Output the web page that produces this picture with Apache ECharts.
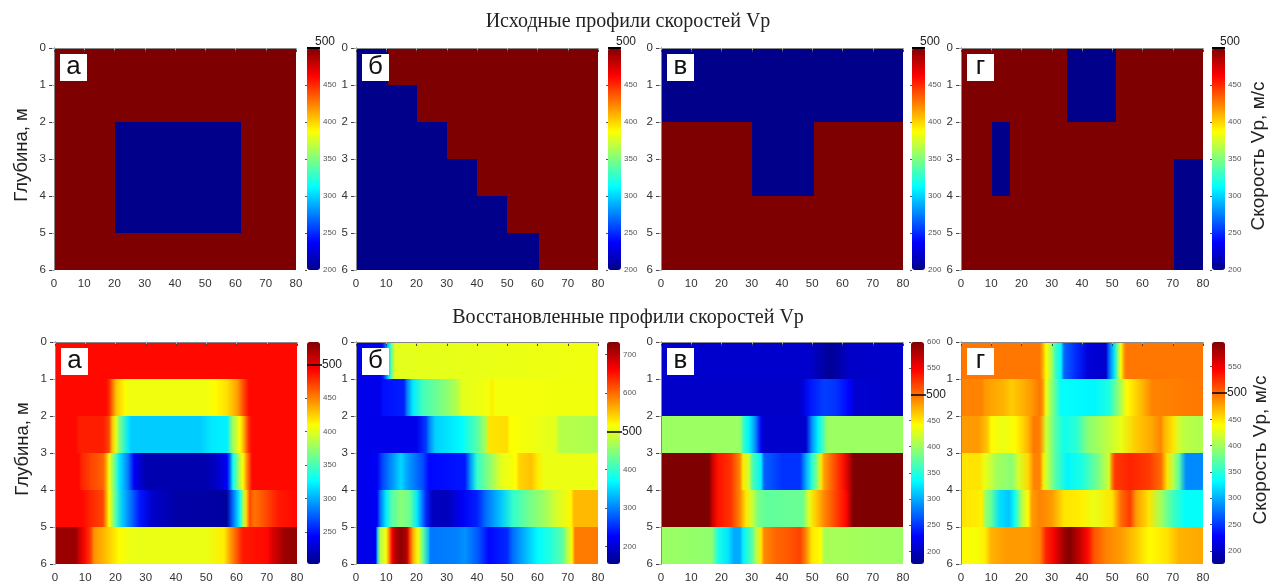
<!DOCTYPE html>
<html><head><meta charset="utf-8">
<style>html,body{margin:0;padding:0;background:#fff}#c{width:1271px;height:582px}</style>
<script src="https://cdn.jsdelivr.net/npm/echarts@6/dist/echarts.min.js"></script>
</head><body><div id="c"></div>
<script>
// every row: [x, velocity] knots, depth layer = row index
const startA = [
 [[0,500],[80,500]],[[0,500],[80,500]],
 [[0,500],[20.3,500],[20.3,200],[61.7,200],[61.7,500],[80,500]],
 [[0,500],[20.3,500],[20.3,200],[61.7,200],[61.7,500],[80,500]],
 [[0,500],[20.3,500],[20.3,200],[61.7,200],[61.7,500],[80,500]],
 [[0,500],[80,500]]];
const startB = [
 [[0,200],[10.5,200],[10.5,500],[80,500]],
 [[0,200],[20,200],[20,500],[80,500]],
 [[0,200],[30,200],[30,500],[80,500]],
 [[0,200],[40,200],[40,500],[80,500]],
 [[0,200],[50,200],[50,500],[80,500]],
 [[0,200],[60.5,200],[60.5,500],[80,500]]];
const startC = [
 [[0,200],[80,200]],[[0,200],[80,200]],
 [[0,500],[30,500],[30,200],[50.6,200],[50.6,500],[80,500]],
 [[0,500],[30,500],[30,200],[50.6,200],[50.6,500],[80,500]],
 [[0,500],[80,500]],[[0,500],[80,500]]];
const startD = [
 [[0,500],[35.2,500],[35.2,200],[51.3,200],[51.3,500],[80,500]],
 [[0,500],[35.2,500],[35.2,200],[51.3,200],[51.3,500],[80,500]],
 [[0,500],[10.1,500],[10.1,200],[16.2,200],[16.2,500],[80,500]],
 [[0,500],[10.1,500],[10.1,200],[16.2,200],[16.2,500],[70.3,500],[70.3,200],[80,200]],
 [[0,500],[70.3,500],[70.3,200],[80,200]],
 [[0,500],[70.3,500],[70.3,200],[80,200]]];

const resultA = [
 [[0,490],[80,490]],
 [[0,490],[17,490],[18,480],[20,430],[23,410],[24,405],[50,405],[53,410],[57,420],[60,440],[62.5,470],[64,490],[80,490]],
 [[0,490],[7,490],[8,483],[16,483],[18,470],[19,430],[20,400],[21,370],[24,320],[25,310],[48,310],[52,320],[57,322],[59,380],[61,410],[62,430],[64,480],[65,490],[80,490]],
 [[0,490],[8,490],[9,480],[12,470],[16,460],[17,440],[18,405],[20,350],[21,320],[24,285],[26,240],[30,215],[50,215],[54,225],[57,240],[58,280],[59,330],[61,390],[62,410],[63,440],[65,490],[80,490]],
 [[0,490],[9,490],[12,480],[16,470],[17,440],[18,410],[20,350],[22,310],[25,280],[28,250],[32,225],[40,212],[57,210],[59,280],[61,330],[62,380],[63,420],[64.5,470],[65,460],[66,455],[70,470],[74,485],[80,490]],
 [[0,525],[7,525],[8,510],[10,490],[12,470],[13,445],[17,430],[21,410],[25,403],[50,403],[56,415],[58,440],[60,465],[62,485],[70,490],[72,505],[76,525],[80,528]]];
const resultB = [
 [[0,215],[8,215],[9,240],[10,300],[11,360],[12,440],[13,500],[80,508]],
 [[0,215],[8,215],[9,235],[16,245],[17,300],[19,360],[22,410],[28,440],[33,470],[35,500],[44,510],[45,525],[46,510],[80,508]],
 [[0,215],[20,215],[23,260],[24,300],[26,345],[35,370],[40,420],[43,470],[44,530],[50,535],[51,515],[60,505],[66,500],[67,475],[80,470]],
 [[0,215],[7,220],[9,270],[12,310],[15,350],[17,320],[22,270],[24,230],[36,240],[38,320],[40,400],[45,460],[48,500],[53,515],[54,540],[58,550],[60,525],[62,505],[80,505]],
 [[0,215],[7,220],[8,290],[10,360],[12,420],[15,450],[18,430],[20,360],[23,250],[25,190],[30,185],[35,220],[40,245],[43,290],[48,340],[52,400],[58,440],[62,460],[66,490],[71,520],[72,555],[80,555]],
 [[0,215],[6.5,215],[7,330],[8,470],[10,510],[11,580],[12,660],[13,700],[15,725],[17,700],[18,620],[19,560],[20.5,510],[22,430],[24,330],[24.5,295],[33,300],[36,310],[40,280],[44,230],[50,250],[52,290],[56,330],[60,370],[64,390],[68,420],[70,480],[71.5,520],[72.5,590],[80,590]]];
const resultC = [
 [[0,206],[48,206],[50,204],[52,195],[56,182],[59,190],[62,204],[80,206]],
 [[0,204],[46,204],[47,215],[50,240],[54,255],[58,250],[62,230],[64,208],[80,204]],
 [[0,400],[26,400],[27,360],[29,330],[31,290],[33,225],[34,206],[48,206],[50,290],[52,330],[54,370],[55,400],[80,400]],
 [[0,600],[16,600],[17,570],[19,540],[23,525],[26,490],[27,450],[29,420],[30,370],[33,330],[34,270],[40,250],[46,250],[48,300],[50,350],[52,400],[53,450],[54,480],[57,510],[60,540],[62,570],[63.5,600],[80,600]],
 [[0,600],[16,600],[17,570],[19,540],[23,525],[26,490],[28,450],[30,420],[32,385],[35,375],[47,380],[49,430],[51,460],[54,490],[58,520],[61,545],[63,590],[63.5,600],[80,600]],
 [[0,400],[17,395],[19,345],[22,325],[24,300],[26,300],[27,330],[30,370],[31.5,410],[33,450],[34,490],[38,505],[42,510],[46,520],[48,490],[50,450],[53,440],[54,405],[80,400]]];
const resultD = [
 [[0,495],[26,495],[27,470],[28,440],[30,400],[31,360],[33,330],[34,270],[38,245],[42,210],[48,205],[49,270],[50.5,320],[52,390],[53,440],[54,480],[54.5,495],[80,495]],
 [[0,490],[7,490],[8,480],[14,470],[17,460],[20,470],[23,480],[26,495],[27,480],[28,430],[31,370],[33,335],[44,330],[49,345],[52,390],[55,440],[60,470],[63,490],[80,495]],
 [[0,480],[6,480],[9,460],[10,440],[14,430],[18,440],[20,455],[22,470],[24,495],[26,490],[28,420],[31,370],[34,340],[38,350],[42,390],[48,410],[53,430],[58,460],[63,475],[66,490],[67,470],[70,450],[72,420],[74,410],[80,405]],
 [[0,450],[6,450],[8,430],[12,400],[17,390],[19,420],[22,455],[24,490],[26,490],[27,450],[28,420],[31,370],[35,330],[40,345],[45,380],[49,420],[50,490],[51,520],[56,530],[62,520],[66,500],[68,450],[70,410],[72,370],[74.5,285],[80,285]],
 [[0,450],[7,445],[8,400],[10,375],[13,320],[16,310],[18,340],[20,410],[22,440],[23.5,480],[26,490],[30,480],[34,450],[40,445],[44,430],[50,450],[53,500],[56,520],[58,480],[62,450],[66,400],[70,360],[74,335],[80,335]],
 [[0,440],[5,435],[8,445],[10,470],[15,480],[22,480],[26,490],[28,530],[31,550],[34,585],[36,595],[39,570],[42,540],[44,510],[48,490],[53,480],[58,460],[62,440],[68,450],[72,470],[80,475]]];

const letters = ['а','б','в','г'];
const startTicks = [200,250,300,350,400,450];
const resultTicksA = [250,300,350,400,450];
const resultTicksB = [200,300,400,600,700];
const resultTicksC = [200,250,300,350,400,450,550,600];
const resultTicksD = [200,250,300,350,400,450,550];
const title1 = 'Исходные профили скоростей Vp';
const title2 = 'Восстановленные профили скоростей Vp';
const depthName = 'Глубина, м';
const barName = 'Скорость Vp, м/с';

const jet = ['#00008b','#0000ff','#007fff','#00ffff','#7fff7f','#ffff00','#ff7f00','#ff0000','#7f0000'];
const sans = '"Liberation Sans",Arial,sans-serif';
const serif = '"Liberation Serif","Times New Roman",serif';

const panels = [
 {rows:startA,l:54,t:48,bar:307,min:200,max:500,ticks:startTicks,letter:0,top:true},
 {rows:startB,l:356,t:48,bar:608,min:200,max:500,ticks:startTicks,letter:1,top:true},
 {rows:startC,l:661,t:48,bar:912,min:200,max:500,ticks:startTicks,letter:2,top:true},
 {rows:startD,l:961,t:48,bar:1212,min:200,max:500,ticks:startTicks,letter:3,top:true},
 {rows:resultA,l:55,t:342,bar:307,min:202,max:534,ticks:resultTicksA,letter:0},
 {rows:resultB,l:356,t:342,bar:607,min:155,max:732,ticks:resultTicksB,letter:1},
 {rows:resultC,l:661,t:342,bar:911,min:176,max:600,ticks:resultTicksC,letter:2},
 {rows:resultD,l:961,t:342,bar:1212,min:175,max:597,ticks:resultTicksD,letter:3}
];
const W=242,H=222,BW=13;

function renderCell(params, api){
  const i = params.dataIndexInside;
  const row = api.value(1);
  if (i+1>=params.dataInsideLength || api.value(1,i+1)!==row) return;
  const x0=api.value(0), x1=api.value(0,i+1);
  if (x1<=x0) return;
  const a=api.coord([x0,row]), b=api.coord([x1,row+1]);
  const L=Math.round(a[0]), R=Math.round(b[0]);
  return {type:'rect',shape:{x:L,y:a[1],width:Math.max(R-L,1),height:b[1]-a[1]},
    style:{fill:new echarts.graphic.LinearGradient(0,0,1,0,[
      {offset:0,color:api.visual('color')},{offset:1,color:api.visual('color',i+1)}])}};
}

const grid=[],xAxis=[],yAxis=[],series=[],visualMap=[],graphic=[];
const axisCol='#888';
panels.forEach((p,k)=>{
  const g=grid.length;
  grid.push({left:p.l,top:p.t,width:W,height:H,outerBoundsMode:'none'});
  const lab={fontFamily:sans,fontSize:11.5,color:'#333'};
  const line={show:true,lineStyle:{color:axisCol,width:1}};
  xAxis.push({gridIndex:g,type:'value',min:0,max:80,interval:10,position:'bottom',z:5,
    axisLine:line,axisTick:{length:4,lineStyle:{color:'#444'}},axisLabel:{...lab,margin:8},splitLine:{show:false}});
  xAxis.push({gridIndex:g,type:'value',min:0,max:80,interval:10,position:'top',z:5,
    axisLine:line,axisTick:{inside:true,length:2,lineStyle:{color:'#aaa'}},axisLabel:{show:false},splitLine:{show:false}});
  const isLeft=k%4===0;
  yAxis.push({gridIndex:g,type:'value',inverse:true,min:0,max:6,interval:1,position:'left',z:5,
    axisLine:line,axisTick:{length:5,lineStyle:{color:'#444'}},axisLabel:{...lab,margin:8},splitLine:{show:false},
    name:isLeft?depthName:'',nameLocation:'middle',nameGap:23,nameRotate:90,
    nameTextStyle:{fontFamily:sans,fontSize:18.5,color:'#222',padding:[0,0,0,8]}});
  yAxis.push({gridIndex:g,type:'value',inverse:true,min:0,max:6,interval:1,position:'right',z:5,
    axisLine:line,axisTick:{inside:true,length:2,lineStyle:{color:'#aaa'}},axisLabel:{show:false},splitLine:{show:false}});
  const xi=xAxis.length-2, yi=yAxis.length-2;
  const data=[];
  p.rows.forEach((r,ri)=>r.forEach(q=>data.push([q[0],ri,q[1]])));
  series.push({type:'custom',xAxisIndex:xi,yAxisIndex:yi,coordinateSystem:'cartesian2d',clip:true,
    renderItem:renderCell,encode:{x:0,y:1},data,silent:true,z:2});
  visualMap.push({type:'continuous',min:p.min,max:p.max,seriesIndex:series.length-1,dimension:2,
    left:p.bar,top:p.t,itemWidth:BW,itemHeight:H,padding:0,calculable:false,hoverLink:false,realtime:false,
    text:null,showLabel:false,inRange:{color:jet},textStyle:{fontSize:1,color:'rgba(0,0,0,0)'}});
  // colour bar axes
  const cg=grid.length;
  grid.push({left:p.bar,top:p.t,width:BW,height:H,outerBoundsMode:'none'});
  xAxis.push({gridIndex:cg,type:'value',min:0,max:1,show:false});
  yAxis.push({gridIndex:cg,type:'value',min:p.min,max:p.max,position:'right',z:6,
    axisLine:{show:false},splitLine:{show:false},
    axisTick:{show:true,inside:true,length:2,customValues:p.ticks,lineStyle:{color:'#555'}},
    axisLabel:{customValues:p.ticks,fontFamily:sans,fontSize:8,color:'#555',margin:3}});
  const mark=[500];
  yAxis.push({gridIndex:cg,type:'value',min:p.min,max:p.max,position:'right',z:7,offset:p.top?0:2,
    axisLine:{show:false},splitLine:{show:false},
    axisTick:{show:true,inside:true,length:p.top?BW:BW+2,customValues:mark,lineStyle:{color:'#000',width:p.top?2:1.5}},
    axisLabel:{customValues:mark,fontFamily:sans,fontSize:12,color:'#222',
      margin:p.top?-5:0,verticalAlign:p.top?'bottom':'middle'},
    name:k%4===3?barName:'',nameLocation:'middle',nameGap:24,nameRotate:90,
    nameTextStyle:{fontFamily:sans,fontSize:19,color:'#222',padding:[0,0,0,6]}});
  // panel letter
  graphic.push({type:'rect',z:20,shape:{x:p.l+6,y:p.t+6,width:27,height:27},style:{fill:'#fff'}});
  graphic.push({type:'text',z:21,style:{x:p.l+19.5,y:p.t+19,text:letters[p.letter],align:'center',verticalAlign:'middle',
    font:'26px '+sans,fill:'#111'}});
});

const chart=echarts.init(document.getElementById('c'),null,{renderer:'canvas',width:1271,height:582});
chart.setOption({
  animation:false,backgroundColor:'#fff',
  title:[
   {text:title1,left:623,top:7,textAlign:'center',textStyle:{fontFamily:serif,fontSize:20,fontWeight:'normal',color:'#222'}},
   {text:title2,left:623,top:303,textAlign:'center',textStyle:{fontFamily:serif,fontSize:20,fontWeight:'normal',color:'#222'}}
  ],
  grid,xAxis,yAxis,series,visualMap,graphic
});
</script></body></html>
